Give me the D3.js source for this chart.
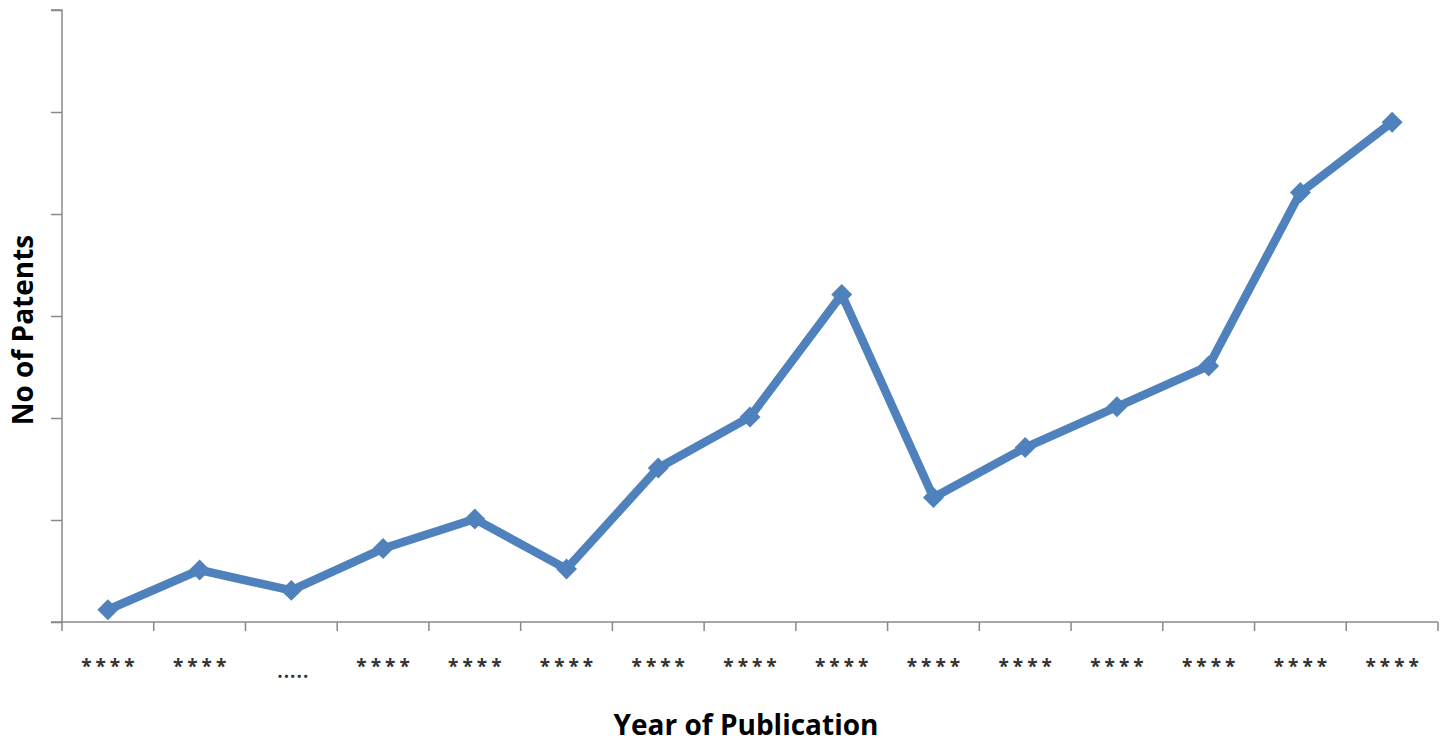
<!DOCTYPE html>
<html><head><meta charset="utf-8">
<script src="https://cdn.jsdelivr.net/npm/d3@7"></script>
<style>html,body{margin:0;padding:0;background:#fff;}</style>
</head><body>
<svg id="chart" width="1452" height="746"></svg>
<script>
const categories = ["****","****",".....","****","****","****","****","****","****","****","****","****","****","****","****"];
const values = [1.2, 5.1, 3.1, 7.2, 10.1, 5.2, 15.1, 20.1, 32.1, 12.2, 17.1, 21.1, 25.1, 42.1, 49];
const yTicks = [0, 10, 20, 30, 40, 50, 60];

const svg = d3.select("#chart");
const mLeft = 62, mRight = 1438, mTop = 10, mBottom = 622;
const x = d3.scaleBand().domain(d3.range(categories.length)).range([mLeft, mRight]);
const y = d3.scaleLinear().domain([0, 60]).range([mBottom, mTop]);
const axisColor = "#898989";

// y axis
const ya = svg.append("g").attr("transform", `translate(${mLeft},0)`)
  .call(d3.axisLeft(y).tickValues(yTicks).tickSize(11).tickFormat(""));
ya.select(".domain").attr("stroke", axisColor).attr("stroke-width", 1.5).attr("d", `M-11,${mTop}H0V${mBottom}`);
ya.selectAll(".tick line").attr("stroke", axisColor).attr("stroke-width", 1.5);

// x axis
const xa = svg.append("g").attr("transform", `translate(0,${mBottom})`)
  .call(d3.axisBottom(x).tickSize(0).tickFormat(""));
xa.select(".domain").attr("stroke", axisColor).attr("stroke-width", 1.5).attr("d", `M${mLeft - 11},0H${mRight}`);
const bounds = d3.range(categories.length + 1).map(i => mLeft + i * x.step());
xa.selectAll(".bt").data(bounds).enter().append("line")
  .attr("x1", d => d).attr("x2", d => d).attr("y1", 0).attr("y2", 9)
  .attr("stroke", axisColor).attr("stroke-width", 1.5);

// category labels
svg.selectAll(".cat").data(categories).enter().append("text")
  .attr("x", (d, i) => x(i) + x.bandwidth() / 2 + 2)
  .attr("y", (d, i) => d.startsWith("*") ? 673 : 678)
  .attr("text-anchor", "middle")
  .attr("font-family", "Open Sans, Liberation Sans, sans-serif")
  .attr("font-size", 19).attr("font-weight", "bold")
  .attr("letter-spacing", (d) => d.startsWith("*") ? "4px" : "1px")
  .attr("fill", "#333")
  .text(d => d);

// line
const line = d3.line().x((d, i) => x(i) + x.bandwidth() / 2).y(d => y(d));
svg.append("path").datum(values).attr("d", line)
  .attr("fill", "none").attr("stroke", "#4F81BD").attr("stroke-width", 8.5)
  .attr("stroke-linejoin", "round");

svg.selectAll(".pt").data(values).enter().append("path")
  .attr("d", d3.symbol(d3.symbolSquare, 220)())
  .attr("transform", (d, i) => `translate(${x(i) + x.bandwidth() / 2},${y(d)}) rotate(45)`)
  .attr("fill", "#4F81BD");

// axis titles
svg.append("text").attr("x", 746).attr("y", 735).attr("text-anchor", "middle")
  .attr("font-family", "Open Sans, Liberation Sans, sans-serif").attr("font-weight", "bold")
  .attr("font-size", 28).attr("fill", "#000").text("Year of Publication");
svg.append("text").attr("transform", "translate(33,330) rotate(-90)").attr("text-anchor", "middle")
  .attr("font-family", "Open Sans, Liberation Sans, sans-serif").attr("font-weight", "bold")
  .attr("font-size", 28).attr("fill", "#000").text("No of Patents");
</script>
</body></html>
